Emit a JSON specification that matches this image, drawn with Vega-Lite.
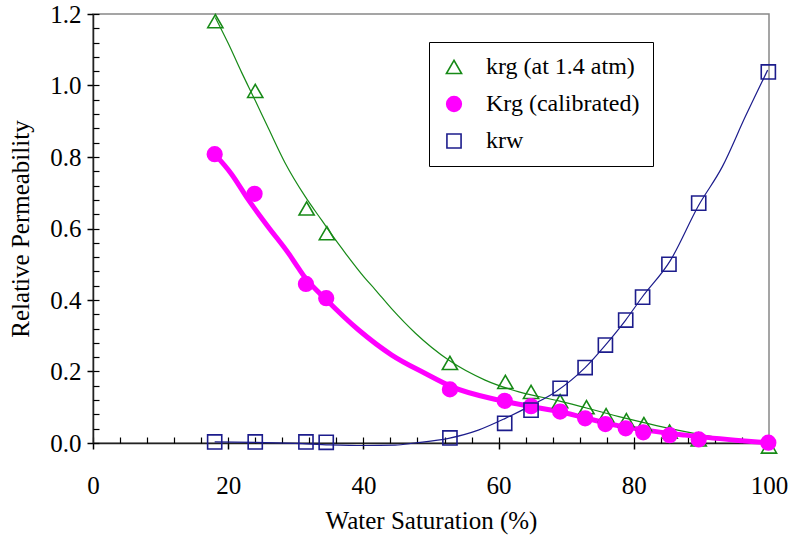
{
  "$schema": "https://vega.github.io/schema/vega-lite/v6.json",
  "width": 676,
  "height": 429,
  "autosize": {"type": "none"},
  "padding": {"left": 93, "top": 14, "right": 26, "bottom": 105},
  "background": "white",
  "config": {
    "view": {"stroke": "#888888", "strokeWidth": 1.5},
    "font": "Liberation Serif",
    "axis": {"grid": false, "domainColor": "#222222", "domainWidth": 1.5, "labelColor": "black", "titleColor": "black", "titleFontWeight": "normal", "labelFlush": false, "labelOverlap": false}
  },
  "datasets": {
    "points": [
      {"series": "krg", "x": 18.1, "y": 1.18}, {"series": "krg", "x": 24.0, "y": 0.985}, {"series": "krg", "x": 31.6, "y": 0.656}, {"series": "krg", "x": 34.6, "y": 0.587}, {"series": "krg", "x": 52.8, "y": 0.224}, {"series": "krg", "x": 61.0, "y": 0.171}, {"series": "krg", "x": 64.8, "y": 0.143}, {"series": "krg", "x": 69.1, "y": 0.117}, {"series": "krg", "x": 73.0, "y": 0.1}, {"series": "krg", "x": 75.9, "y": 0.078}, {"series": "krg", "x": 78.9, "y": 0.064}, {"series": "krg", "x": 81.5, "y": 0.053}, {"series": "krg", "x": 85.3, "y": 0.032}, {"series": "krg", "x": 89.6, "y": 0.01}, {"series": "krg", "x": 100, "y": -0.01},
      {"series": "Krg", "x": 18.0, "y": 0.808}, {"series": "Krg", "x": 23.9, "y": 0.697}, {"series": "Krg", "x": 31.5, "y": 0.445}, {"series": "Krg", "x": 34.5, "y": 0.405}, {"series": "Krg", "x": 52.8, "y": 0.15}, {"series": "Krg", "x": 60.9, "y": 0.118}, {"series": "Krg", "x": 64.8, "y": 0.103}, {"series": "Krg", "x": 69.1, "y": 0.088}, {"series": "Krg", "x": 72.8, "y": 0.069}, {"series": "Krg", "x": 75.8, "y": 0.053}, {"series": "Krg", "x": 78.8, "y": 0.041}, {"series": "Krg", "x": 81.4, "y": 0.03}, {"series": "Krg", "x": 85.3, "y": 0.022}, {"series": "Krg", "x": 89.6, "y": 0.01}, {"series": "Krg", "x": 99.9, "y": 0.001},
      {"series": "krw", "x": 18.0, "y": 0.003}, {"series": "krw", "x": 24.0, "y": 0.003}, {"series": "krw", "x": 31.5, "y": 0.003}, {"series": "krw", "x": 34.5, "y": 0.002}, {"series": "krw", "x": 52.8, "y": 0.014}, {"series": "krw", "x": 60.9, "y": 0.055}, {"series": "krw", "x": 64.8, "y": 0.092}, {"series": "krw", "x": 69.1, "y": 0.153}, {"series": "krw", "x": 72.8, "y": 0.211}, {"series": "krw", "x": 75.8, "y": 0.274}, {"series": "krw", "x": 78.8, "y": 0.344}, {"series": "krw", "x": 81.3, "y": 0.408}, {"series": "krw", "x": 85.2, "y": 0.5}, {"series": "krw", "x": 89.6, "y": 0.671}, {"series": "krw", "x": 99.9, "y": 1.038}
    ],
    "curves": [
      {"series": "krg", "x": 18.1, "y": 1.19}, {"series": "krg", "x": 20, "y": 1.118}, {"series": "krg", "x": 22, "y": 1.036}, {"series": "krg", "x": 24, "y": 0.958}, {"series": "krg", "x": 26, "y": 0.878}, {"series": "krg", "x": 28.4, "y": 0.784}, {"series": "krg", "x": 31.4, "y": 0.689}, {"series": "krg", "x": 33.8, "y": 0.624}, {"series": "krg", "x": 35.8, "y": 0.57}, {"series": "krg", "x": 37.3, "y": 0.532}, {"series": "krg", "x": 40.2, "y": 0.462}, {"series": "krg", "x": 41.7, "y": 0.43}, {"series": "krg", "x": 44.2, "y": 0.375}, {"series": "krg", "x": 47.7, "y": 0.307}, {"series": "krg", "x": 52.6, "y": 0.232}, {"series": "krg", "x": 58, "y": 0.176}, {"series": "krg", "x": 63, "y": 0.143}, {"series": "krg", "x": 68.9, "y": 0.118}, {"series": "krg", "x": 77.8, "y": 0.074}, {"series": "krg", "x": 87.6, "y": 0.032}, {"series": "krg", "x": 95, "y": 0.008}, {"series": "krg", "x": 100, "y": 0.0},
      {"series": "Krg", "x": 18, "y": 0.808}, {"series": "Krg", "x": 20.5, "y": 0.752}, {"series": "Krg", "x": 23, "y": 0.68}, {"series": "Krg", "x": 25.9, "y": 0.605}, {"series": "Krg", "x": 28.9, "y": 0.531}, {"series": "Krg", "x": 30.4, "y": 0.489}, {"series": "Krg", "x": 31.4, "y": 0.462}, {"series": "Krg", "x": 34.3, "y": 0.405}, {"series": "Krg", "x": 39.3, "y": 0.316}, {"series": "Krg", "x": 44.2, "y": 0.246}, {"series": "Krg", "x": 49.1, "y": 0.195}, {"series": "Krg", "x": 53.1, "y": 0.157}, {"series": "Krg", "x": 60, "y": 0.12}, {"series": "Krg", "x": 68.9, "y": 0.088}, {"series": "Krg", "x": 77.8, "y": 0.048}, {"series": "Krg", "x": 87.6, "y": 0.022}, {"series": "Krg", "x": 95, "y": 0.008}, {"series": "Krg", "x": 100, "y": 0.0},
      {"series": "krw", "x": 18, "y": 0.003}, {"series": "krw", "x": 24, "y": 0.002}, {"series": "krw", "x": 30, "y": -0.001}, {"series": "krw", "x": 35, "y": -0.005}, {"series": "krw", "x": 40, "y": -0.007}, {"series": "krw", "x": 44.7, "y": -0.006}, {"series": "krw", "x": 47.6, "y": 0.0}, {"series": "krw", "x": 52.6, "y": 0.013}, {"series": "krw", "x": 57, "y": 0.036}, {"series": "krw", "x": 61, "y": 0.069}, {"series": "krw", "x": 64.9, "y": 0.106}, {"series": "krw", "x": 68.4, "y": 0.143}, {"series": "krw", "x": 72.8, "y": 0.211}, {"series": "krw", "x": 75.8, "y": 0.274}, {"series": "krw", "x": 78.8, "y": 0.344}, {"series": "krw", "x": 81.2, "y": 0.407}, {"series": "krw", "x": 85.4, "y": 0.51}, {"series": "krw", "x": 89.6, "y": 0.665}, {"series": "krw", "x": 93.1, "y": 0.773}, {"series": "krw", "x": 96.5, "y": 0.913}, {"series": "krw", "x": 99.8, "y": 1.043}
    ]
  },
  "layer": [
    {
      "data": {"name": "curves"},
      "transform": [{"filter": "datum.series === 'krg'"}],
      "mark": {"type": "line", "color": "#178a17", "strokeWidth": 1.2, "clip": false, "interpolate": "monotone"},
      "encoding": {
        "x": {"field": "x", "type": "quantitative", "scale": {"domain": [0, 100], "nice": false},
          "axis": {"values": [0, 20, 40, 60, 80, 100], "ticks": true, "tickColor": "black", "tickWidth": 1.5, "tickSize": 6, "labelPadding": 24, "labelFont": "Liberation Serif", "labelFontSize": 25, "title": "Water Saturation (%)", "titleFont": "Liberation Serif", "titleFontSize": 25, "titlePadding": 10, "orient": "bottom"}},
        "y": {"field": "y", "type": "quantitative", "scale": {"domain": [0, 1.2], "nice": false, "zero": false},
          "axis": {"values": [0, 0.2, 0.4, 0.6, 0.8, 1.0, 1.2], "format": ".1f", "ticks": true, "tickColor": "black", "tickWidth": 1.5, "tickSize": 6, "labelPadding": 6, "labelFont": "Liberation Serif", "labelFontSize": 25, "title": "Relative Permeability", "titleFont": "Liberation Serif", "titleFontSize": 25, "titlePadding": 16, "orient": "left"}}
      }
    },
    {
      "data": {"name": "curves"},
      "transform": [{"filter": "datum.series === 'Krg'"}],
      "mark": {"type": "line", "color": "#ff00ff", "strokeWidth": 5, "clip": false, "interpolate": "monotone"},
      "encoding": {
        "x": {"field": "x", "type": "quantitative",
          "axis": {"values": [0, 4, 8, 12, 16, 20, 24, 28, 32, 36, 40, 44, 48, 52, 56, 60, 64, 68, 72, 76, 80, 84, 88, 92, 96, 100], "ticks": true, "tickColor": "black", "tickWidth": 1.2, "tickSize": 6, "labels": false, "domain": false, "title": null, "orient": "top", "offset": -429}},
        "y": {"field": "y", "type": "quantitative",
          "axis": {"values": [0, 0.04, 0.08, 0.12, 0.16, 0.2, 0.24, 0.28, 0.32, 0.36, 0.4, 0.44, 0.48, 0.52, 0.56, 0.6, 0.64, 0.68, 0.72, 0.76, 0.8, 0.84, 0.88, 0.92, 0.96, 1.0, 1.04, 1.08, 1.12, 1.16, 1.2], "ticks": true, "tickColor": "black", "tickWidth": 1.2, "tickSize": 6, "labels": false, "domain": false, "title": null, "orient": "right", "offset": -676}}
      }
    },
    {
      "data": {"name": "curves"},
      "transform": [{"filter": "datum.series === 'krw'"}],
      "mark": {"type": "line", "color": "#1c1c8c", "strokeWidth": 1.2, "clip": false, "interpolate": "monotone"},
      "encoding": {
        "x": {"field": "x", "type": "quantitative", "axis": null},
        "y": {"field": "y", "type": "quantitative", "axis": null}
      }
    },
    {
      "data": {"name": "points"},
      "mark": {"type": "point", "strokeWidth": 1.6, "opacity": 1, "clip": false},
      "encoding": {
        "x": {"field": "x", "type": "quantitative", "axis": null},
        "y": {"field": "y", "type": "quantitative", "axis": null},
        "shape": {"field": "series", "type": "nominal", "title": null,
          "scale": {"domain": ["krg", "Krg", "krw"], "range": ["triangle-up", "circle", "square"]},
          "legend": {"orient": "none", "legendX": 336, "legendY": 28, "labelExpr": "datum.value === 'krg' ? 'krg (at 1.4 atm)' : datum.value === 'Krg' ? 'Krg (calibrated)' : 'krw'", "labelFont": "Liberation Serif", "labelFontSize": 24, "labelColor": "black", "labelOffset": 20, "rowPadding": 13, "padding": 13, "strokeColor": "black", "fillColor": "white", "symbolStrokeWidth": 1.6, "labelLimit": 400}},
        "stroke": {"field": "series", "type": "nominal", "title": null,
          "scale": {"domain": ["krg", "Krg", "krw"], "range": ["#178a17", "#ff00ff", "#1c1c8c"]}},
        "fill": {"field": "series", "type": "nominal", "title": null,
          "scale": {"domain": ["krg", "Krg", "krw"], "range": ["transparent", "#ff00ff", "transparent"]}},
        "size": {"field": "series", "type": "nominal", "title": null,
          "scale": {"domain": ["krg", "Krg", "krw"], "range": [230, 200, 130]}}
      }
    }
  ],
  "resolve": {"axis": {"x": "independent", "y": "independent"}}
}
